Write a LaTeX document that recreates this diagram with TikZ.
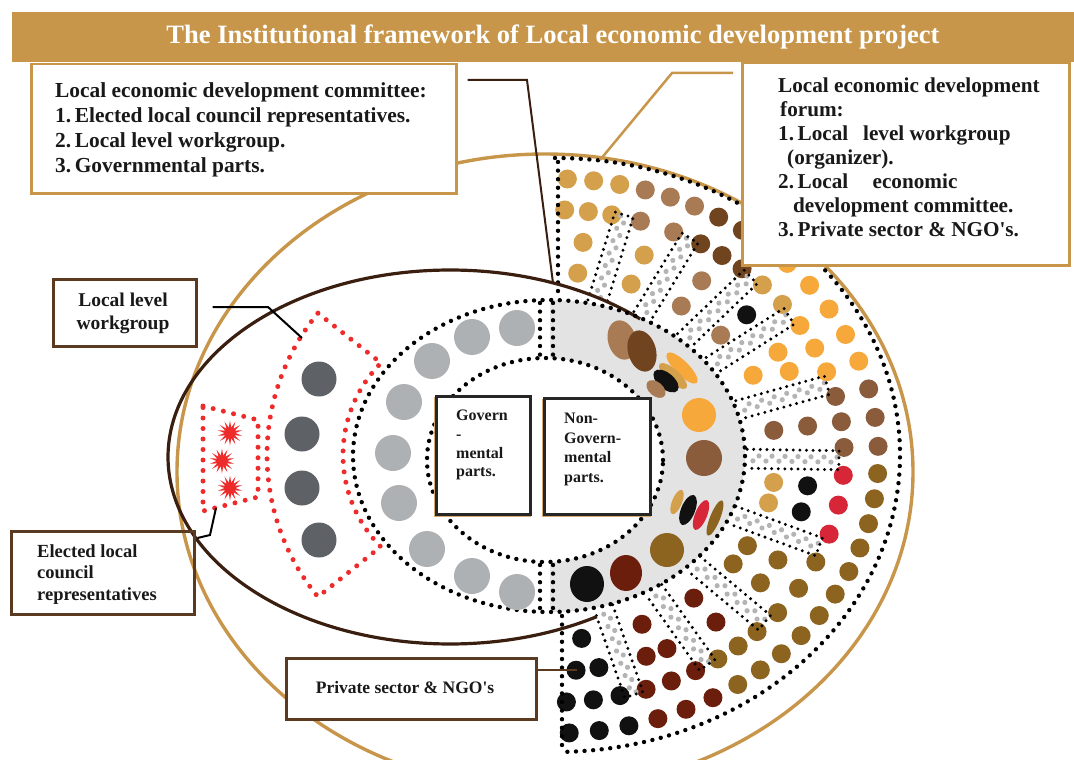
\documentclass[tikz,border=0pt]{standalone}
\usepackage{fontspec}
\setmainfont{Liberation Serif}
\usetikzlibrary{shapes.geometric,calc}

\definecolor{ledgold}{HTML}{C8964A}
\definecolor{ebrown}{HTML}{3A1E10}
\definecolor{boxbrown}{HTML}{5B3A22}
\definecolor{bandgray}{HTML}{E3E3E3}
\definecolor{govgray}{HTML}{AEB1B4}
\definecolor{wgdark}{HTML}{5E6165}
\definecolor{wgred}{HTML}{EE2B2B}
\definecolor{stan}{HTML}{D4A04C}
\definecolor{slbrown}{HTML}{A87B55}
\definecolor{sdbrown}{HTML}{70441F}
\definecolor{sorange}{HTML}{F6A83B}
\definecolor{sbrown}{HTML}{8A5C3C}
\definecolor{solive}{HTML}{8C6420}
\definecolor{sred}{HTML}{D72638}
\definecolor{smaroon}{HTML}{6C1E0D}
\definecolor{sblack}{HTML}{111111}
\definecolor{aislegray}{HTML}{B4B4B4}

\tikzset{
  blackdots/.style={draw=black, line width=4.4pt, line cap=round, dash pattern=on 0pt off 8.6pt},
  reddots/.style={draw=wgred, line width=5pt, line cap=round, dash pattern=on 0pt off 10.5pt},
  aisledots/.style={draw=black, line width=3.3pt, line cap=round, dash pattern=on 0pt off 6.6pt},
  goldbox/.style={draw=ledgold, line width=2.5pt, fill=white, inner sep=0pt, anchor=north west},
  brownbox/.style={draw=boxbrown, line width=2.5pt, fill=white, inner sep=0pt, anchor=north west},
  darkbox/.style={draw=black!85, line width=2.5pt, fill=white, inner sep=0pt, anchor=north west},
  shadowbox/.style={draw=ledgold!80, line width=2.5pt, inner sep=0pt, anchor=north west},
  boxtext/.style={inner sep=0pt, align=left, anchor=north west, text=black!90},
  starburst/.style={star, star points=14, star point ratio=2.3, fill=wgred, draw=none, minimum size=25pt, inner sep=0pt},
  conn/.style={line width=2pt},
}

% one row of seats between two angles, at radial fraction #3
\newcommand\seatrow[4]{%
  \pgfmathsetmacro\srx{196+149*#3}%
  \pgfmathsetmacro\sry{156+141*#3}%
  \pgfmathsetmacro\scx{549+6*#3}%
  \pgfmathsetmacro\smid{(#1+#2)/2}%
  \pgfmathsetmacro\sloc{100*sqrt((\srx/100*sin(\smid))^2+(\sry/100*cos(\smid))^2)}%
  \pgfmathsetmacro\smrg{(#3<0.6)*13/\sloc*57.2958}%
  \pgfmathsetmacro\sfrom{#1-\smrg}%
  \pgfmathsetmacro\sto{#2+\smrg}%
  \pgfmathsetmacro\swid{\sfrom-\sto}%
  \pgfmathtruncatemacro\snum{max(1,round(\swid/57.2958*\sloc/28))}%
  \foreach \sk in {1,...,\snum}{%
    \pgfmathsetmacro\sang{\sfrom-(\sk-0.5)*\swid/\snum}%
    \fill[#4] ({\scx+\srx*cos(\sang)},{-456+\sry*sin(\sang)}) circle[radius=9.5];
  }%
}
% a sector of four rows
\newcommand\seatsector[6]{%
  \seatrow{#1}{#2}{0.20}{#3}%
  \seatrow{#1}{#2}{0.42}{#4}%
  \seatrow{#1}{#2}{0.64}{#5}%
  \seatrow{#1}{#2}{0.86}{#6}%
}
% a radial aisle leaving the ring at angle #1
\newcommand\aisle[1]{%
  \pgfmathsetmacro\axx{549+196*cos(#1)}%
  \pgfmathsetmacro\ayy{-456+156*sin(#1)}%
  \pgfmathsetmacro\aphi{atan2(141*sin(#1),6+149*cos(#1))}%
  \begin{scope}[shift={(\axx,\ayy)}, rotate=\aphi]
    \foreach \ak in {8,21,...,86}{%
      \fill[aislegray] (\ak,-2) circle[radius=2.6];
      \fill[aislegray] (\ak+6,3) circle[radius=2.6];
    }
    \draw[aisledots] (2,9.5) -- (94,9.5) -- (94,-9.5) -- (2,-9.5);
  \end{scope}
}

\begin{document}
\begin{tikzpicture}[x=1pt,y=1pt]
\useasboundingbox (0,0) rectangle (1074,-760);

% title bar
\node[fill=ledgold, minimum width=1062pt, minimum height=50pt, inner sep=0pt, anchor=north west] (bar) at (12,-12) {};
\node[text=white, font=\bfseries\fontsize{26.5}{30}\selectfont, inner sep=0pt] (title) at (553,-37)
  {The Institutional framework of Local economic development project};

% outer gold ring
\draw[ledgold, line width=3.4pt] (545,-472) ellipse [x radius=368, y radius=318];

% grey half of the inner ring
\begin{scope}
  \clip (550,0) rectangle (1074,-760);
  \fill[bandgray, even odd rule] (549,-456) ellipse [x radius=196, y radius=156]
                                  (545,-460) ellipse [x radius=118, y radius=102];
\end{scope}

% seats of the forum, sector by sector
\seatsector{90}{76}{stan}{stan}{stan}{stan}
\seatsector{76}{62}{stan}{stan}{slbrown}{slbrown}
\seatsector{62}{47}{slbrown}{slbrown}{sdbrown}{sdbrown}
\seatsector{47}{35}{slbrown}{sblack}{stan}{sorange}
\seatsector{35}{17}{sorange}{sorange}{sorange}{sorange}
\seatsector{17}{-1}{sbrown}{sbrown}{sbrown}{sbrown}
\seatsector{-1}{-22}{stan}{sblack}{sred}{solive}
\seatsector{-22}{-43}{solive}{solive}{solive}{solive}
\seatsector{-43}{-58}{smaroon}{smaroon}{solive}{solive}
\seatsector{-58}{-74}{smaroon}{smaroon}{smaroon}{smaroon}
\seatsector{-74}{-90}{sblack}{sblack}{sblack}{sblack}

% aisles
\foreach \aa in {76,62,47,35,17,-1,-22,-43,-58,-74}{\aisle{\aa}}

% forum boundary
\draw[blackdots] (555,-158) arc[start angle=90, end angle=-88, x radius=345, y radius=297];
\draw[blackdots] (558,-162) -- (558,-298);
\draw[blackdots] (562,-616) -- (562,-752);

% committee ellipse
\draw[ebrown, line width=3.2pt] ($(450,-457)+(47.6:282 and 187)$)
  arc[start angle=47.6, end angle=301.4, x radius=282, y radius=187];

% inner ring boundaries
\draw[blackdots] (549,-456) ellipse [x radius=196, y radius=156];
\draw[blackdots] (545,-460) ellipse [x radius=118, y radius=102];
\draw[blackdots] (540,-303) -- (540,-356);
\draw[blackdots] (553,-303) -- (553,-356);
\draw[blackdots] (540,-565) -- (540,-610);
\draw[blackdots] (553,-565) -- (553,-610);

% governmental seats
\foreach \p in {(517,-328),(472,-337),(432,-361),(404,-402),(393,-453),(399,-503),(427,-549),(472,-576),(517,-592)}
  \fill[govgray] \p circle[radius=18];

% non-governmental seats
\fill[slbrown, rotate around={15:(622,-340)}] (622,-340) ellipse [x radius=14, y radius=20];
\fill[sdbrown, rotate around={15:(642,-351)}] (642,-351) ellipse [x radius=14, y radius=21];
\fill[sorange, rotate around={-45:(682,-368)}] (682,-368) ellipse [x radius=21, y radius=7];
\fill[stan, rotate around={-42:(673,-376)}] (673,-376) ellipse [x radius=18, y radius=6.5];
\fill[sblack, rotate around={-40:(666,-381)}] (666,-381) ellipse [x radius=15, y radius=8];
\fill[slbrown, rotate around={-40:(656,-389)}] (656,-389) ellipse [x radius=11, y radius=7];
\fill[sorange] (699,-415) circle[radius=17];
\fill[sbrown] (704,-458) circle[radius=18];
\fill[stan, rotate around={-22:(677,-502)}] (677,-502) ellipse [x radius=5, y radius=13];
\fill[sblack, rotate around={-22:(688,-510)}] (688,-510) ellipse [x radius=7, y radius=16];
\fill[sred, rotate around={-22:(701,-515)}] (701,-515) ellipse [x radius=6, y radius=16];
\fill[solive, rotate around={-22:(715,-518)}] (715,-518) ellipse [x radius=5, y radius=19];
\fill[solive] (667,-550) circle[radius=17];
\fill[smaroon] (626,-573) ellipse [x radius=16, y radius=18];
\fill[sblack] (587,-584) ellipse [x radius=17, y radius=18];

% local level workgroup
\draw[reddots] ($(490,-455)+(140.5:223)$) -- ($(473.4,-455)+(135.1:130.4)$)
  arc[start angle=135.1, end angle=224.7, radius=130.4]
  -- ($(490,-455)+(219.5:223)$)
  arc[start angle=219.5, end angle=140.5, radius=223] -- cycle;
\foreach \p in {(319,-379),(302,-434),(302,-488),(319,-540)}
  \fill[wgdark] \p circle[radius=17.5];

% elected representatives
\draw[reddots] (203,-406) -- (258,-420) -- (258,-497) -- (203,-511) -- cycle;
\node[starburst] (star1) at (230,-433) {};
\node[starburst] (star2) at (222,-461) {};
\node[starburst] (star3) at (230,-488) {};

% committee box
\node[goldbox, minimum width=425pt, minimum height=129pt] (ledc) at (30,-63) {};
\node[boxtext, font=\bfseries\fontsize{21.4}{25}\selectfont] (ledctext) at (55,-82)
  {Local economic development committee:\\
   1.\,Elected local council representatives.\\
   2.\,Local level workgroup.\\
   3.\,Governmental parts.};

% forum box
\node[goldbox, minimum width=327pt, minimum height=202pt] (ledf) at (741,-62) {};
\node[boxtext, font=\bfseries\fontsize{21.2}{24}\selectfont] (ledftext) at (778,-78)
  {Local economic development\\
   \hspace*{2pt}forum:\\
   1.\,Local\hspace{0.45em} level workgroup\\
   \hspace*{9pt}(organizer).\\
   2.\,Local\hspace{0.9em} economic\\
   \hspace*{15pt}development committee.\\
   3.\,Private sector \& NGO\textquotesingle s.};

% workgroup box
\node[brownbox, minimum width=143pt, minimum height=67pt] (wgbox) at (52,-278) {};
\node[inner sep=0pt, align=center, font=\bfseries\fontsize{19.5}{23}\selectfont, text=black!90] (wgtext) at (123,-313)
  {Local level\\workgroup};

% elected box
\node[draw=boxbrown, line width=2.5pt, inner sep=0pt, anchor=north west, minimum width=183pt, minimum height=83pt] (elbox) at (10,-530) {};
\node[boxtext, font=\bfseries\fontsize{18.5}{21.5}\selectfont] (eltext) at (37,-544)
  {Elected local\\council\\representatives};

% governmental / non-governmental boxes, with a faint gold edge below
\node[shadowbox, minimum width=94pt, minimum height=118pt] (gvshadow) at (434,-396.5) {};
\node[darkbox, minimum width=94pt, minimum height=118pt] (gvbox) at (435,-395) {};
\node[boxtext, font=\bfseries\fontsize{16}{18.7}\selectfont] (gvtext) at (456,-410)
  {Govern\\-\\mental\\parts.};
\node[shadowbox, minimum width=106pt, minimum height=116pt] (ngshadow) at (542,-398.5) {};
\node[darkbox, minimum width=106pt, minimum height=116pt] (ngbox) at (543,-397) {};
\node[boxtext, font=\bfseries\fontsize{16}{19.5}\selectfont] (ngtext) at (564,-413)
  {Non-\\Govern-\\mental\\parts.};

% private sector box
\node[brownbox, minimum width=250pt, minimum height=61pt] (pvbox) at (285,-657) {};
\node[inner sep=0pt, font=\bfseries\fontsize{17.5}{21}\selectfont, text=black!90] (pvtext) at (405,-688)
  {Private sector \& NGO\textquotesingle s};

% leader lines
\coordinate (ledcA) at ([xshift=10pt,yshift=-17pt]ledc.north east);
\coordinate (ledcB) at (527,-80);
\coordinate (ledcC) at (553,-283);
\draw[conn, ebrown] (ledcA) -- (ledcB) -- (ledcC);

\coordinate (ledfA) at ([xshift=-8pt,yshift=-11pt]ledf.north west);
\coordinate (ledfB) at (672,-73);
\coordinate (ledfC) at (600,-160);
\draw[conn, ledgold, line width=2.5pt] (ledfA) -- (ledfB) -- (ledfC);

\coordinate (wgA) at ([xshift=15pt,yshift=-29pt]wgbox.north east);
\coordinate (wgB) at (268,-307);
\coordinate (wgC) at (302,-338);
\draw[conn, black] (wgA) -- (wgB) -- (wgC);

\coordinate (elA) at ([xshift=2pt,yshift=-8pt]elbox.north east);
\coordinate (elB) at (210,-535);
\coordinate (elC) at (216,-508);
\draw[conn, black] (elA) -- (elB) -- (elC);

\coordinate (pvA) at ([yshift=-13pt]pvbox.north east);
\coordinate (pvB) at (577,-670);
\draw[conn, boxbrown] (pvA) -- (pvB);
\end{tikzpicture}
\end{document}
